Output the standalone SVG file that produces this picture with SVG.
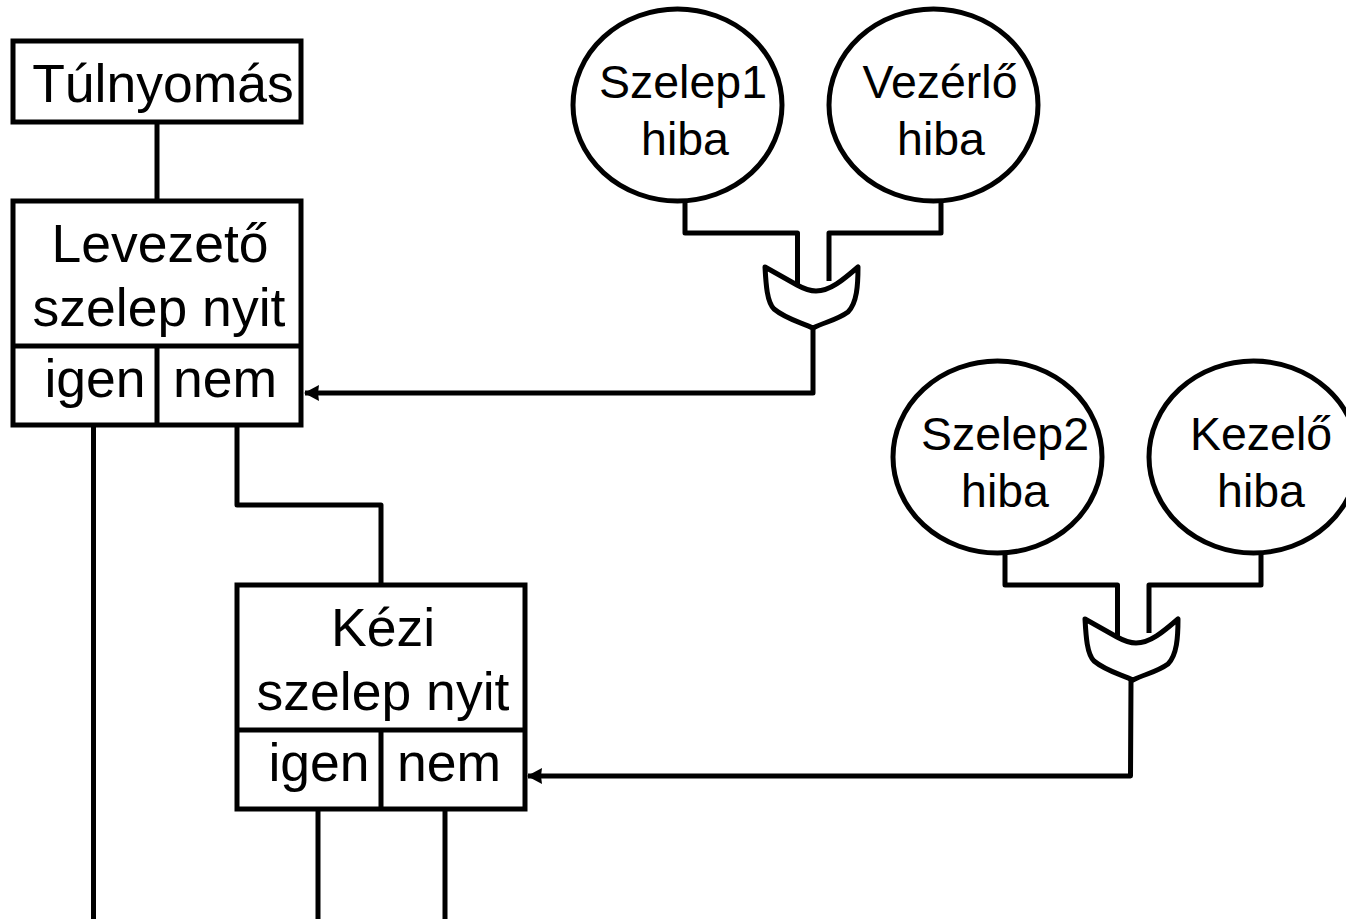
<svg xmlns="http://www.w3.org/2000/svg" width="1346" height="919" viewBox="0 0 1346 919">
<defs>
<style>
.s{fill:none;stroke:#000;stroke-width:5;stroke-linejoin:round}
.ar{marker-end:url(#ah)}
.n{fill:#fff;stroke:#000;stroke-width:5}
.g{fill:#fff;stroke:#000;stroke-width:5;stroke-linejoin:round}
text{font-family:"Liberation Sans",Arial,sans-serif;fill:#000;text-anchor:middle}
.a{font-size:53.5px}
.b{font-size:46.5px}
</style>
<marker id="ah" markerUnits="userSpaceOnUse" markerWidth="18" markerHeight="18" refX="15" refY="9" orient="auto"><path d="M1 1L16 9L1 17L2 9Z" fill="#000"/></marker>
</defs>
<rect width="1346" height="919" fill="#fff"/>
<g id="connectors">
<path class="s" d="M157 122V200"/>
<path class="s" d="M93.500 425V919"/>
<path class="s" d="M237 425V505H381V585"/>
<path class="s" d="M318 809V919"/>
<path class="s" d="M445 809V919"/>
<path class="s" d="M685 200V233H797.500V285"/>
<path class="s" d="M941 200V233H829V281"/>
<path class="s ar" d="M813 328V393H305"/>
<path class="s" d="M1005 552V585H1117.500V637"/>
<path class="s" d="M1261 552V585H1149V633"/>
<path class="s ar" d="M1131 680L1130.500 776H528"/>
</g>
<g id="or1"><path class="g" d="M765 267L797 285Q808 291 816 291C830 291 843 280 858 267C858 285 857 303 848 312C837 320 825 322 813 328C800 322 786 319 774 309C767 302 766 285 765 267Z"/></g>
<g id="or2"><path class="g" d="M1085 619L1117 637Q1128 643 1136 643C1150 643 1163 632 1178 619C1178 637 1177 655 1168 664C1157 672 1145 674 1133 680C1120 674 1106 671 1094 661C1087 654 1086 637 1085 619Z"/></g>
<g id="tulnyomas"><rect class="n" x="13" y="41" width="288" height="81"/><text class="a" x="163" y="102">Túlnyomás</text></g>
<g id="levezeto"><rect class="n" x="13" y="201" width="288" height="224"/><path class="s" d="M13 346H301M157 346V425"/>
<text class="a" x="160" y="262">Levezető</text><text class="a" x="159" y="326">szelep nyit</text><text class="a" x="95" y="397">igen</text><text class="a" x="225" y="397">nem</text></g>
<g id="kezi"><rect class="n" x="237" y="585" width="288" height="224"/><path class="s" d="M237 730H525M381 730V809"/>
<text class="a" x="383" y="646">Kézi</text><text class="a" x="383" y="710">szelep nyit</text><text class="a" x="319" y="781">igen</text><text class="a" x="449" y="781">nem</text></g>
<g id="szelep1"><ellipse class="n" cx="677.500" cy="105" rx="104.500" ry="96"/><text class="b" x="683" y="98">Szelep1</text><text class="b" x="685" y="155">hiba</text></g>
<g id="vezerlo"><ellipse class="n" cx="933.500" cy="105" rx="104.500" ry="96"/><text class="b" x="940" y="98">Vezérlő</text><text class="b" x="941" y="155">hiba</text></g>
<g id="szelep2"><ellipse class="n" cx="997.500" cy="457" rx="104.500" ry="96"/><text class="b" x="1005" y="450">Szelep2</text><text class="b" x="1005" y="507">hiba</text></g>
<g id="kezelo"><ellipse class="n" cx="1253.500" cy="457" rx="104.500" ry="96"/><text class="b" x="1261" y="450">Kezelő</text><text class="b" x="1261" y="507">hiba</text></g>
</svg>
